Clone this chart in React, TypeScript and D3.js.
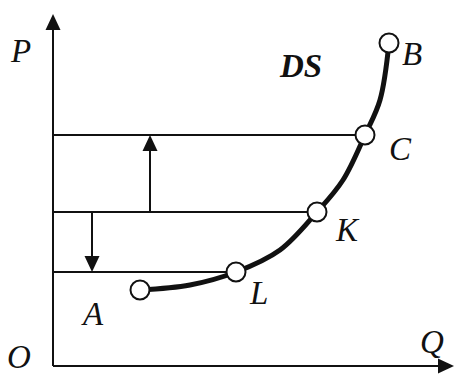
import React from "react";
import * as d3 from "d3";

const W = 454;
const H = 376;

// Supply curve DS (Q, P)
const curveQ = [87, 137, 183, 227, 264, 290, 312, 327, 336];
const curveP = [76, 81, 94, 116, 154, 186, 231, 266, 323];

// Labelled points on the curve
const pointNames = ["A", "L", "K", "C", "B"];
const pointQ = [87, 183, 264, 312, 336];
const pointP = [76, 94, 154, 231, 323];

// Horizontal price levels (to C, K, L)
const levelP = [231, 154, 94];
const levelEndQ = [312, 264, 183];

// Arrows: up (K -> C) and down (K -> L)
const arrowQ = [97, 39];
const arrowFromP = [154, 154];
const arrowToP = [231, 94];

const xMax = 401;
const yMax = 352;

export default function App() {
  const x = d3.scaleLinear().domain([0, xMax]).range([53, 454]);
  const y = d3.scaleLinear().domain([0, yMax]).range([366, 14]);

  const line = d3
    .line<number>()
    .x((d, i) => x(curveQ[i]))
    .y((d, i) => y(curveP[i]))
    .curve(d3.curveCatmullRom.alpha(0.5));

  const font = "Liberation Serif";
  const fs = 33;
  const ink = "#111";

  const arrowHead = (tx: number, ty: number, dir: "up" | "down" | "right") => {
    const len = 16;
    const hw = 7.5;
    let pts: [number, number][];
    if (dir === "up") pts = [[tx, ty], [tx - hw, ty + len], [tx + hw, ty + len]];
    else if (dir === "down") pts = [[tx, ty], [tx - hw, ty - len], [tx + hw, ty - len]];
    else pts = [[tx, ty], [tx - len, ty - hw], [tx - len, ty + hw]];
    return <polygon points={pts.map((p) => p.join(",")).join(" ")} fill={ink} />;
  };

  // label offsets relative to point centers (text anchor start, baseline)
  const labelDx: Record<string, number> = { A: -57, L: 14, K: 19, C: 24, B: 13 };
  const labelDy: Record<string, number> = { A: 35, L: 32, K: 29, C: 25, B: 22 };

  return (
    <svg
      width={W}
      height={H}
      style={{ position: "fixed", left: 0, top: 0, background: "#fff" }}
    >
      <rect width={W} height={H} fill="#fff" />
      {/* axes */}
      <line x1={x(0)} y1={y(0)} x2={x(0)} y2={y(yMax) + 10} stroke={ink} strokeWidth={2} />
      {arrowHead(x(0), y(yMax), "up")}
      <line x1={x(0)} y1={y(0)} x2={x(xMax) - 10} y2={y(0)} stroke={ink} strokeWidth={2} />
      {arrowHead(x(xMax), y(0), "right")}

      {/* horizontal price levels */}
      {levelP.map((p, i) => (
        <line key={i} x1={x(0)} y1={y(p)} x2={x(levelEndQ[i])} y2={y(p)} stroke={ink} strokeWidth={1.8} />
      ))}

      {/* arrows */}
      {arrowQ.map((q, i) => {
        const up = arrowToP[i] > arrowFromP[i];
        return (
          <g key={i}>
            <line
              x1={x(q)}
              y1={y(arrowFromP[i])}
              x2={x(q)}
              y2={y(arrowToP[i]) + (up ? 10 : -10)}
              stroke={ink}
              strokeWidth={2}
            />
            {arrowHead(x(q), y(arrowToP[i]), up ? "up" : "down")}
          </g>
        );
      })}

      {/* curve */}
      <path d={line(curveQ) || ""} fill="none" stroke={ink} strokeWidth={5} strokeLinecap="round" />

      {/* points */}
      {pointNames.map((n, i) => (
        <circle key={n} cx={x(pointQ[i])} cy={y(pointP[i])} r={9.5} fill="#fff" stroke={ink} strokeWidth={2} />
      ))}

      {/* labels */}
      <g fontFamily={font} fontStyle="italic" fontSize={fs} fill={ink}>
        {pointNames.map((n, i) => (
          <text key={n} x={x(pointQ[i]) + labelDx[n]} y={y(pointP[i]) + labelDy[n]}>
            {n}
          </text>
        ))}
        <text x={11} y={62}>P</text>
        <text x={7} y={368}>O</text>
        <text x={420} y={353}>Q</text>
        <text x={280} y={77} fontWeight="bold">DS</text>
      </g>
    </svg>
  );
}
